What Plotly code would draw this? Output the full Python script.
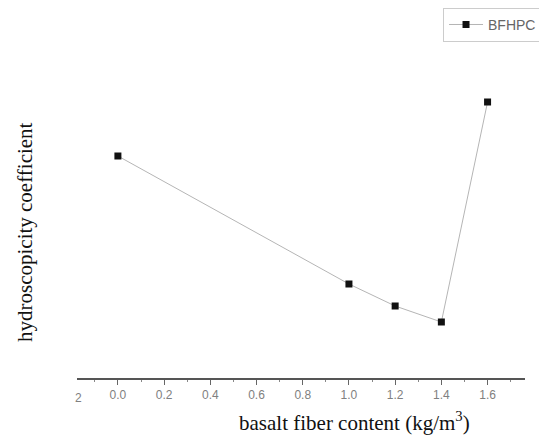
import plotly.graph_objects as go

fiber_content = [0.0, 1.0, 1.2, 1.4, 1.6]
hydro_coeff = [2.22, 0.94, 0.72, 0.56, 2.76]
series_name = "BFHPC"
tick_vals = [0.0, 0.2, 0.4, 0.6, 0.8, 1.0, 1.2, 1.4, 1.6]
tick_text = ["0.0", "0.2", "0.4", "0.6", "0.8", "1.0", "1.2", "1.4", "1.6"]

fig = go.Figure()
fig.add_trace(go.Scatter(
    x=fiber_content, y=hydro_coeff, mode="lines+markers", name=series_name,
    line=dict(color="#b5b5b5", width=1),
    marker=dict(symbol="square", size=7, color="#111111"),
))

fig.update_layout(
    width=547, height=447,
    margin=dict(l=69, r=30, t=32, b=77, autoexpand=False),
    paper_bgcolor="white", plot_bgcolor="white",
    showlegend=True,
    legend=dict(x=0.817, y=1.095, xanchor="left", yanchor="top",
                bordercolor="#cccccc", borderwidth=1,
                font=dict(family="Liberation Sans", size=14, color="#666666"),
                bgcolor="rgba(0,0,0,0)", itemwidth=34,
                entrywidth=108, entrywidthmode="pixels",
                tracegroupgap=0),
    xaxis=dict(range=[-0.177, 1.762], tickvals=tick_vals, ticktext=tick_text,
               showline=True, linecolor="#555555", linewidth=1.5,
               ticks="outside", ticklen=5, tickcolor="#666666", tickwidth=1,
               minor=dict(dtick=0.1, tick0=0, ticks="outside", ticklen=2, tickcolor="#888888"),
               tickfont=dict(family="Liberation Sans", size=12, color="#808080"),
               showgrid=False, zeroline=False, fixedrange=True),
    yaxis=dict(range=[0, 3.38], showline=False, showticklabels=False, ticks="",
               showgrid=False, zeroline=False, fixedrange=True),
    annotations=[
        dict(text="hydroscopicity coefficient", xref="paper", yref="paper",
             x=-0.116, y=0.432, xanchor="center", yanchor="middle", textangle=-90,
             showarrow=False, font=dict(family="Liberation Serif", size=21, color="#111111")),
        dict(text="basalt fiber content (kg/m<sup>3</sup>)", xref="paper", yref="paper",
             x=0.62, y=-0.13, xanchor="center", yanchor="middle",
             showarrow=False, font=dict(family="Liberation Serif", size=21, color="#111111")),
        dict(text="2", xref="paper", yref="paper", x=0.0, y=0.0, xanchor="left", yanchor="top",
             xshift=-4, yshift=-11, showarrow=False,
             font=dict(family="Liberation Sans", size=12, color="#808080")),
    ],
)

fig.write_html("out.html")
